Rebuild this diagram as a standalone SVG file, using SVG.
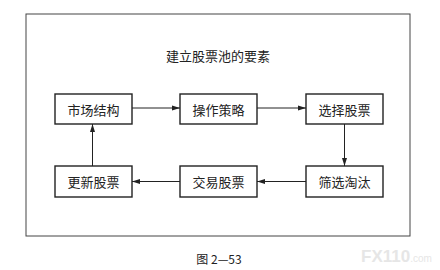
<svg xmlns="http://www.w3.org/2000/svg" width="440" height="270" viewBox="0 0 440 270">
<defs>
<marker id="ah" markerWidth="8" markerHeight="6" refX="8" refY="3" orient="auto" markerUnits="userSpaceOnUse">
<path d="M0,0.5 L8,3 L0,5.5 Z" fill="#222"/>
</marker>
<style>
.box{fill:#fff;stroke:#222;stroke-width:1.4}
.lbl{font-family:"Noto Sans CJK SC","Noto Sans CJK JP",sans-serif;font-size:13px;fill:#222;text-anchor:middle;dominant-baseline:central}
.con{stroke:#222;stroke-width:1;fill:none;marker-end:url(#ah)}
</style>
</defs>
<rect width="440" height="270" fill="#fff"/>
<rect x="26" y="14" width="384" height="222" fill="none" stroke="#444" stroke-width="1"/>
<text x="218" y="55" class="lbl">建立股票池的要素</text>
<g id="connectors">
<line class="con" x1="132" y1="108" x2="180" y2="108"/>
<line class="con" x1="257" y1="108" x2="306" y2="108"/>
<line class="con" x1="344.5" y1="124" x2="344.5" y2="166"/>
<line class="con" x1="306" y1="181.5" x2="257" y2="181.5"/>
<line class="con" x1="180" y1="181.5" x2="132" y2="181.5"/>
<line class="con" x1="92.5" y1="166" x2="92.5" y2="124"/>
</g>
<g id="n1"><rect class="box" x="55" y="94" width="77" height="30"/><text class="lbl" x="93.5" y="109">市场结构</text></g>
<g id="n2"><rect class="box" x="180" y="94" width="77" height="30"/><text class="lbl" x="218.5" y="109">操作策略</text></g>
<g id="n3"><rect class="box" x="306" y="94" width="77" height="30"/><text class="lbl" x="344.5" y="109">选择股票</text></g>
<g id="n4"><rect class="box" x="306" y="166" width="77" height="31"/><text class="lbl" x="344.5" y="181.5">筛选淘汰</text></g>
<g id="n5"><rect class="box" x="180" y="166" width="77" height="31"/><text class="lbl" x="218.5" y="181.5">交易股票</text></g>
<g id="n6"><rect class="box" x="55" y="166" width="77" height="31"/><text class="lbl" x="93.5" y="181.5">更新股票</text></g>
<text x="219" y="258" class="lbl" style="font-size:12px">图 2—53</text>
<text x="361" y="262" font-family="Liberation Sans,sans-serif" font-size="17" font-weight="bold" fill="#e6e6e6">FX110<tspan font-size="10" font-weight="normal">.com</tspan></text>
</svg>
